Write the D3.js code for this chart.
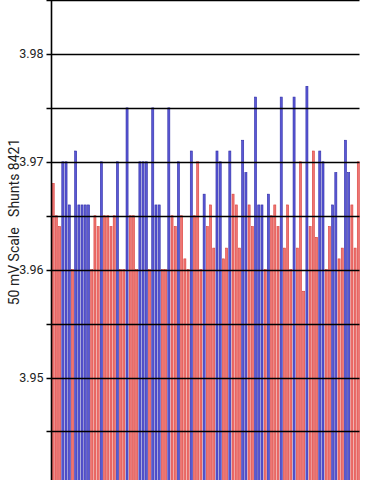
<!DOCTYPE html>
<html>
<head>
<meta charset="utf-8">
<script src="https://cdnjs.cloudflare.com/ajax/libs/d3/7.8.5/d3.min.js"></script>
<style>
  html, body { margin: 0; padding: 0; background: #fff; }
  svg { display: block; }
  .tick-label { font-family: Roboto, "Liberation Sans", sans-serif; font-size: 12.5px; fill: #222; }
  .axis-title { font-family: Roboto, "Liberation Sans", sans-serif; font-size: 14px; fill: #222; }
</style>
</head>
<body>
<svg id="chart"></svg>
<script>
// series colour per bar: R = red shunt, B = blue shunt
var barColors = [
  'R','R','R','B','B','B','R','B','B','B','B','B','R','R','R','B','R','R','R','R',
  'B','R','R','B','R','R','R','B','B','B','R','B','B','B','R','R','B','R','R','B',
  'R','R','R','B','R','R','R','B','R','R','R','B','B','R','R','B','R','R','R','B',
  'B','R','R','B','B','B','R','B','R','R','R','B','R','R','R','B','R','R','R','B',
  'R','R','R','B','B','R','R','B','B','R','R','B','B','R','R','R'
];
var barValues = [
  3.968,3.965,3.964,3.970,3.970,3.966,3.960,3.971,3.966,3.966,3.966,3.966,3.960,3.965,3.964,3.970,3.965,3.965,3.964,3.965,
  3.970,3.960,3.960,3.975,3.965,3.965,3.960,3.970,3.970,3.970,3.960,3.975,3.966,3.966,3.960,3.960,3.975,3.965,3.964,3.970,
  3.965,3.961,3.960,3.971,3.965,3.970,3.960,3.967,3.964,3.966,3.962,3.971,3.970,3.961,3.962,3.971,3.967,3.966,3.962,3.972,
  3.969,3.966,3.964,3.976,3.966,3.966,3.960,3.967,3.965,3.966,3.964,3.976,3.962,3.966,3.960,3.976,3.962,3.970,3.958,3.977,
  3.964,3.971,3.963,3.971,3.970,3.960,3.964,3.966,3.969,3.961,3.962,3.972,3.969,3.966,3.962,3.970
];
var gridTicks = [3.945, 3.95, 3.955, 3.96, 3.965, 3.97, 3.975, 3.98, 3.985];
var labelTicks = [3.95, 3.96, 3.97, 3.98];
var axisTitle = '50 mV Scale   Shunts 8421';

var W = 369, H = 480;
var plotLeft = 51.5, plotRight = 359.5;

var svg = d3.select('#chart').attr('width', W).attr('height', H);

var y = d3.scaleLinear().domain([3.9405, 3.985]).range([H, 0]);
var x = d3.scaleBand()
  .domain(d3.range(barValues.length))
  .range([plotLeft + 0.5, plotRight])
  .paddingInner(0.36)
  .paddingOuter(0.05);

var colorFill = { R: '#ef7572', B: '#5a58d6' };
var colorStroke = { R: '#d9403c', B: '#2e2ca6' };

// bars
svg.append('g').attr('class', 'bars')
  .selectAll('rect').data(barValues)
  .enter().append('rect')
    .attr('x', function(d, i) { return x(i); })
    .attr('width', x.bandwidth())
    .attr('y', function(d) { return y(d); })
    .attr('height', function(d) { return H + 5 - y(d); })
    .attr('fill', function(d, i) { return colorFill[barColors[i]]; })
    .attr('stroke', function(d, i) { return colorStroke[barColors[i]]; })
    .attr('stroke-width', 0.6);

// gridlines over bars
svg.append('g').attr('class', 'grid')
  .selectAll('line').data(gridTicks)
  .enter().append('line')
    .attr('x1', plotLeft - 5)
    .attr('x2', plotRight)
    .attr('y1', function(d) { return Math.round(y(d)) + 0.5; })
    .attr('y2', function(d) { return Math.round(y(d)) + 0.5; })
    .attr('stroke', '#000')
    .attr('stroke-width', 1.3);

// y axis line
svg.append('line')
  .attr('x1', plotLeft).attr('x2', plotLeft)
  .attr('y1', 0).attr('y2', H)
  .attr('stroke', '#000').attr('stroke-width', 1.6);

// tick labels
svg.append('g')
  .selectAll('text').data(labelTicks)
  .enter().append('text')
    .attr('class', 'tick-label')
    .attr('x', plotLeft - 8)
    .attr('y', function(d) { return y(d); })
    .attr('dy', '0.35em')
    .attr('text-anchor', 'end')
    .text(function(d) { return d3.format('.2f')(d); });

// axis title
svg.append('text')
  .attr('class', 'axis-title')
  .attr('transform', 'translate(14,' + 222 + ') rotate(-90)')
  .attr('text-anchor', 'middle')
  .attr('dy', '0.35em')
  .style('white-space', 'pre')
  .text(axisTitle);
</script>
</body>
</html>
